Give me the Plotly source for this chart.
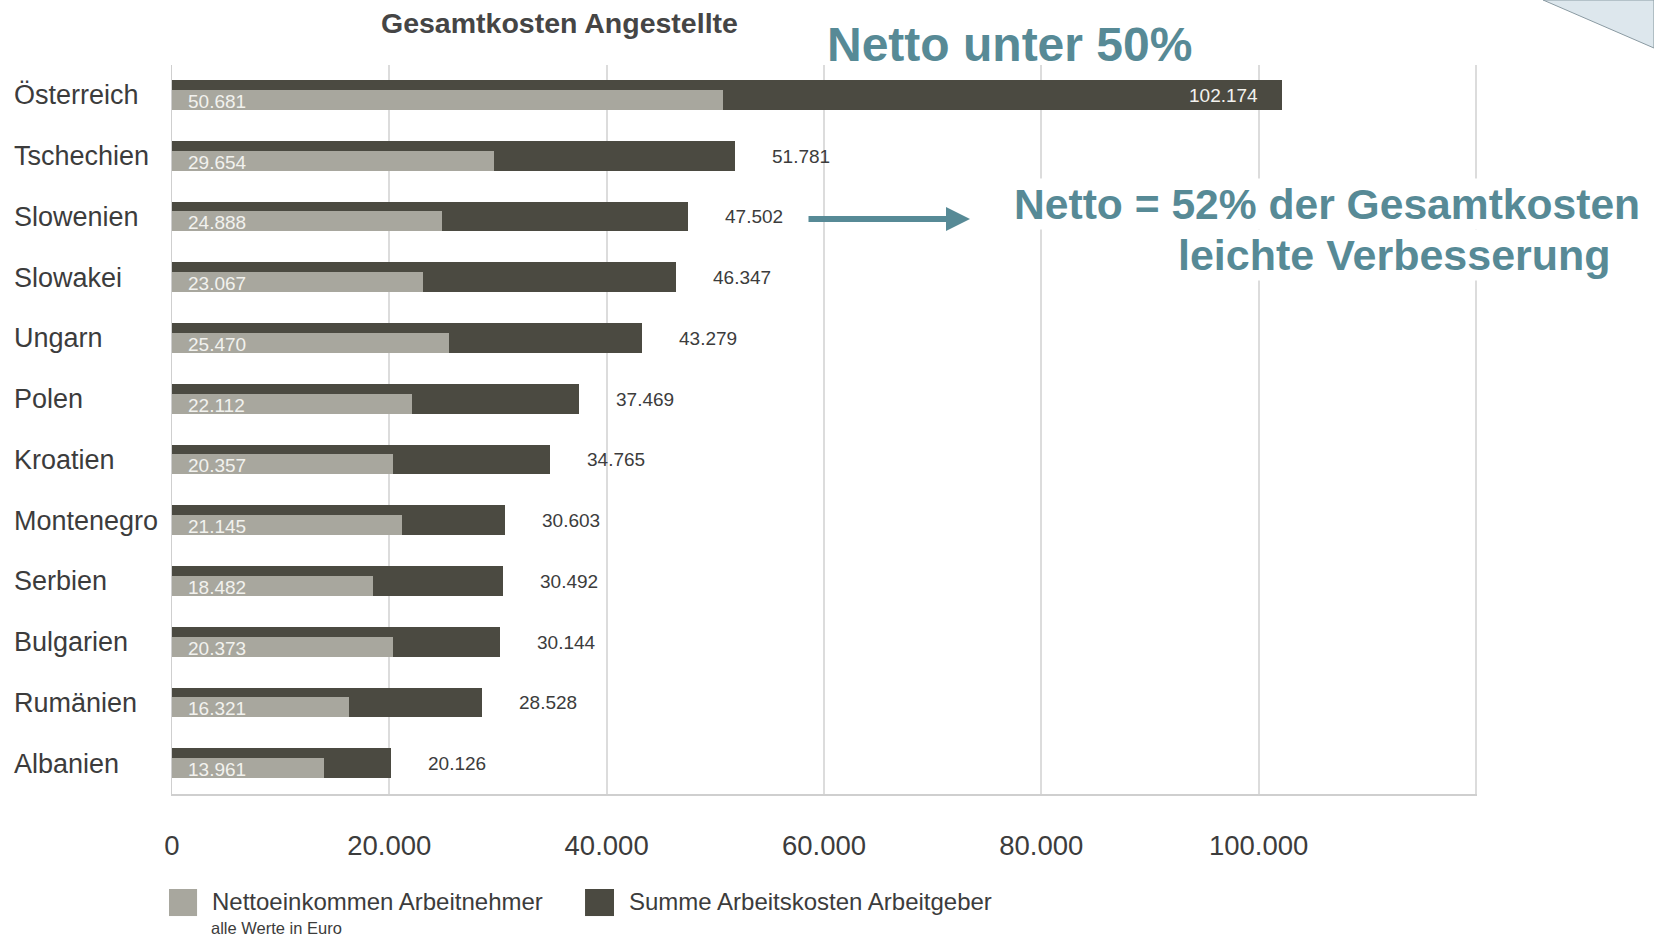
import plotly.graph_objects as go

countries = ["Österreich", "Tschechien", "Slowenien", "Slowakei", "Ungarn", "Polen",
             "Kroatien", "Montenegro", "Serbien", "Bulgarien", "Rumänien", "Albanien"]
netto = [50681, 29654, 24888, 23067, 25470, 22112, 20357, 21145, 18482, 20373, 16321, 13961]
gesamt = [102174, 51781, 47502, 46347, 43279, 37469, 34765, 30603, 30492, 30144, 28528, 20126]
x_ticks = [0, 20000, 40000, 60000, 80000, 100000, 120000]
x_ticktext = ["0", "20.000", "40.000", "60.000", "80.000", "100.000", ""]

DARK = "#4b4a41"
LIGHT = "#a8a79e"
TEAL = "#578a96"
TEXT = "#3c3c3c"
SANS = "Liberation Sans, Arial, sans-serif"


def de(v):
    # german thousands separator
    return f"{v:,}".replace(",", ".")


fig = go.Figure()

fig.add_trace(go.Bar(
    y=countries, x=gesamt, orientation="h",
    marker=dict(color=DARK, line=dict(width=0)),
    width=0.49, offset=-0.25,
    name="Summe Arbeitskosten Arbeitgeber", showlegend=False,
    hoverinfo="skip",
))
fig.add_trace(go.Bar(
    y=countries, x=netto, orientation="h",
    marker=dict(color=LIGHT, line=dict(width=0)),
    width=0.33, offset=-0.09,
    name="Nettoeinkommen Arbeitnehmer", showlegend=False,
    hoverinfo="skip",
))

annotations = []

# country labels, left aligned
for c in countries:
    annotations.append(dict(
        x=-0.1226, xref="paper", y=c, yref="y", text=c, showarrow=False,
        xanchor="left", font=dict(family=SANS, size=27, color=TEXT),
    ))

# value labels
for c, n, g in zip(countries, netto, gesamt):
    annotations.append(dict(
        x=0, y=c, text=de(n), showarrow=False, xanchor="left", xshift=14, yshift=-6,
        font=dict(family=SANS, size=19, color="#f2f2ee"),
    ))
    if g > 100000:
        annotations.append(dict(
            x=g, y=c, text=de(g), showarrow=False, xanchor="right", xshift=-22,
            font=dict(family=SANS, size=19, color="#f2f2ee"),
        ))
    else:
        annotations.append(dict(
            x=g, y=c, text=de(g), showarrow=False, xanchor="left", xshift=35,
            font=dict(family=SANS, size=19, color=TEXT),
        ))

# title and comments
annotations += [
    dict(x=0.2966, y=1.0576, xref="paper", yref="paper", showarrow=False,
         text="<b>Gesamtkosten Angestellte</b>", xanchor="center", yanchor="middle",
         font=dict(family=SANS, size=28.5, color="#454545")),
    dict(x=0.642, y=1.0288, xref="paper", yref="paper", showarrow=False,
         text="<b>Netto unter 50%</b>", xanchor="center", yanchor="middle",
         font=dict(family=SANS, size=48, color=TEAL)),
    dict(x=0.6437, y=0.8093, xref="paper", yref="paper", showarrow=False,
         text="<b>Netto = 52% der Gesamtkosten</b>", xanchor="left", yanchor="middle",
         bgcolor="white", font=dict(family=SANS, size=42.6, color=TEAL)),
    dict(x=1.104, y=0.7394, xref="paper", yref="paper", showarrow=False,
         text="<b>leichte Verbesserung</b>", xanchor="right", yanchor="middle",
         bgcolor="white", font=dict(family=SANS, size=43, color=TEAL)),
    dict(x=0.6115, y=0.7888, xref="paper", yref="paper", showarrow=True,
         ax=-163, ay=0, text="", arrowhead=2, arrowsize=0.8, arrowwidth=6,
         arrowcolor=TEAL),
    # legend texts
    dict(x=0.029, y=-0.148, xref="paper", yref="paper", showarrow=False,
         text="Nettoeinkommen Arbeitnehmer", xanchor="left", yanchor="middle",
         font=dict(family=SANS, size=24, color=TEXT)),
    dict(x=0.3485, y=-0.148, xref="paper", yref="paper", showarrow=False,
         text="Summe Arbeitskosten Arbeitgeber", xanchor="left", yanchor="middle",
         font=dict(family=SANS, size=24, color=TEXT)),
    dict(x=0.0285, y=-0.1835, xref="paper", yref="paper", showarrow=False,
         text="alle Werte in Euro", xanchor="left", yanchor="middle",
         font=dict(family=SANS, size=16.5, color=TEXT)),
]

shapes = [
    # legend swatches
    dict(type="rect", xref="paper", yref="paper", x0=-0.0023, x1=0.0192,
         y0=-0.1674, y1=-0.1303, fillcolor=LIGHT, line=dict(width=0)),
    dict(type="rect", xref="paper", yref="paper", x0=0.3165, x1=0.3387,
         y0=-0.1674, y1=-0.1303, fillcolor=DARK, line=dict(width=0)),
    # slide corner decoration
    dict(type="path", xref="paper", yref="paper",
         path="M 1.0506 1.0892 L 1.1356 1.0233 L 1.1356 1.0892 Z",
         fillcolor="#dde7ed", line=dict(color="#8a9aa2", width=1)),
]

fig.update_layout(
    width=1654, height=939,
    margin=dict(l=172, r=177, t=65, b=145),
    paper_bgcolor="white", plot_bgcolor="white",
    barmode="overlay", bargap=0,
    annotations=annotations, shapes=shapes,
    showlegend=False,
)
fig.update_xaxes(
    range=[0, 120100], tickvals=x_ticks, ticktext=x_ticktext,
    showgrid=True, gridcolor="#dcdcdc", gridwidth=1.5,
    showline=True, linecolor="#cfcfcf", linewidth=1.5,
    zeroline=False, ticks="", ticklabelstandoff=26,
    tickfont=dict(family=SANS, size=27.5, color=TEXT),
)
fig.update_yaxes(
    autorange="reversed", showticklabels=False, showgrid=False,
    showline=True, linecolor="#cfcfcf", linewidth=1, ticks="",
)

# drop the default body margin so the figure fills the window exactly
fig.write_html(
    "out.html",
    config={"displayModeBar": False},
    post_script="document.body.style.margin = '0';",
)
